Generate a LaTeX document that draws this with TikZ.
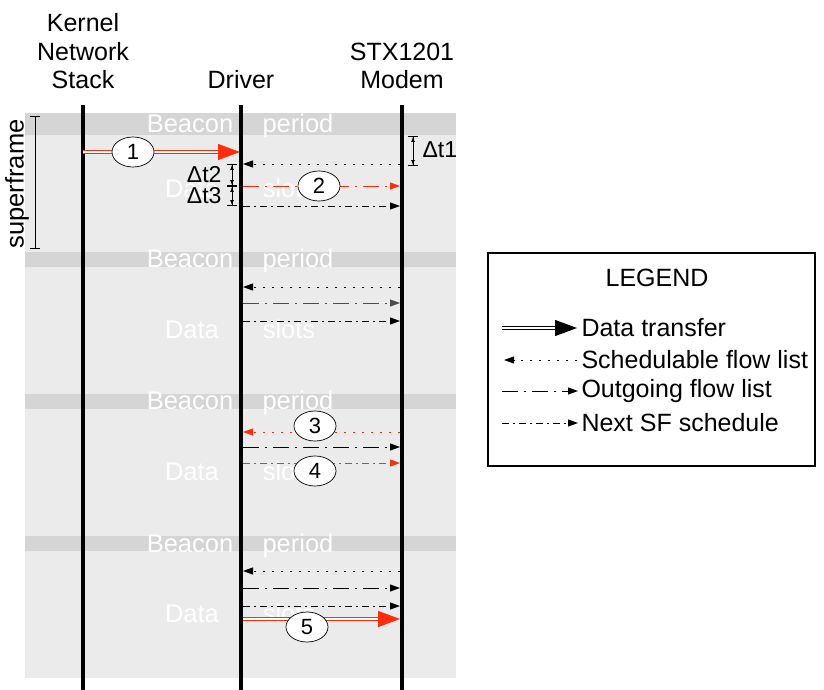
\documentclass[tikz,border=0pt]{standalone}
\usepackage{fontspec}
\setmainfont{Liberation Sans}
\usetikzlibrary{shapes.geometric, arrows.meta, positioning}
\definecolor{beacongray}{HTML}{D5D5D5}
\definecolor{slotgray}{HTML}{EBEBEB}
\definecolor{flowred}{HTML}{FF2D0A}
\tikzset{
  lifeline/.style={line width=4pt},
  headlabel/.style={
    align=center, anchor=base, font=\fontsize{25}{28.5}\selectfont
  },
  bandtext/.style={
    text=white, anchor=base, font=\fontsize{25.5}{29}\selectfont
  },
  steplabel/.style={
    ellipse, draw, fill=white, line width=0.7pt, inner sep=0pt,
    minimum width=42pt, minimum height=30pt, font=\fontsize{22}{26}\selectfont
  },
  dtlabel/.style={font=\fontsize{23}{27}\selectfont},
  smalltip/.style={-{Triangle[length=10pt,width=7pt]}},
  schedflow/.style={smalltip, dash pattern=on 2pt off 7pt, line width=1pt},
  outflow/.style={smalltip, dash pattern=on 16pt off 6pt on 2pt off 6pt, line width=1pt},
  nextflow/.style={smalltip, dash pattern=on 7pt off 4pt on 2pt off 4pt, line width=1pt},
  datatransfer/.style={
    -{Triangle[length=22pt,width=16pt]}, double=white,
    double distance=2pt, line width=1.2pt
  },
  spanbracket/.style={{Bar[width=10pt]}-{Bar[width=10pt]}, line width=0.8pt},
  timebracket/.style={
    {Bar[width=10pt]Latex[length=5pt]}-{Latex[length=5pt]Bar[width=10pt]},
    line width=0.8pt
  },
  legendtext/.style={anchor=west, font=\fontsize{25}{29}\selectfont},
}

\begin{document}
\begin{tikzpicture}[x=1pt, y=-1pt]
  \useasboundingbox (0,0) rectangle (824,690);

  % Background: data slots and beacon periods
  \fill[slotgray] (25,113) rectangle (456,678);
  \fill[beacongray] (25,113) rectangle (456,135);
  \fill[beacongray] (25,252) rectangle (456,267);
  \fill[beacongray] (25,394) rectangle (456,409);
  \fill[beacongray] (25,536) rectangle (456,551);

  \node[bandtext] (b1a) at (190,132) {Beacon};
  \node[bandtext] (b1b) at (298,132) {period};
  \node[bandtext] (s1a) at (192,197) {Data};
  \node[bandtext] (s1b) at (289,197) {slots};
  \node[bandtext] (b2a) at (190,267) {Beacon};
  \node[bandtext] (b2b) at (298,267) {period};
  \node[bandtext] (s2a) at (192,338) {Data};
  \node[bandtext] (s2b) at (289,338) {slots};
  \node[bandtext] (b3a) at (190,409) {Beacon};
  \node[bandtext] (b3b) at (298,409) {period};
  \node[bandtext] (s3a) at (192,480) {Data};
  \node[bandtext] (s3b) at (289,480) {slots};
  \node[bandtext] (b4a) at (190,552) {Beacon};
  \node[bandtext] (b4b) at (298,552) {period};
  \node[bandtext] (s4a) at (192,622) {Data};
  \node[bandtext] (s4b) at (289,622) {slots};

  % Headers
  \node[headlabel] (hk) at (83,89) {Kernel\\Network\\Stack};
  \node[headlabel] (hd) at (241,89) {Driver};
  \node[headlabel] (hm) at (402,89) {STX1201\\Modem};

  % Lifelines
  \coordinate (kt) at (83,105);  \coordinate (kb) at (83,690);
  \coordinate (dt) at (241,105); \coordinate (db) at (241,690);
  \coordinate (mt) at (402,105); \coordinate (mb) at (402,690);
  \draw[lifeline] (kt) -- (kb);
  \draw[lifeline] (dt) -- (db);
  \draw[lifeline] (mt) -- (mb);

  % Superframe span
  \coordinate (sft) at (35,116); \coordinate (sfb) at (35,249);
  \draw[spanbracket] (sft) -- (sfb);
  \node[rotate=90, font=\fontsize{25.5}{29}\selectfont] (sfl) at (17,184) {superframe};

  % Superframe 1
  \coordinate (k1) at (83,152);  \coordinate (d1) at (240,152);
  \coordinate (m2) at (400,164); \coordinate (d2) at (243,164);
  \coordinate (d3) at (243,186); \coordinate (m3) at (400,186);
  \coordinate (d4) at (243,206); \coordinate (m4) at (400,206);
  \draw[datatransfer, flowred] (k1) -- (d1);
  \draw[schedflow] (m2) -- (d2);
  \draw[outflow, flowred] (d3) -- (m3);
  \draw[nextflow] (d4) -- (m4);
  \node[steplabel] (n1) at (133,152) {1};
  \node[steplabel] (n2) at (319,186) {2};

  % Time offsets
  \coordinate (t1a) at (413,136); \coordinate (t1b) at (413,166);
  \draw[timebracket] (t1a) -- (t1b);
  \node[dtlabel, anchor=west] (t1l) at (419,150) {Δt1};
  \coordinate (t2a) at (232,164); \coordinate (t2b) at (232,186);
  \coordinate (t3b) at (232,206);
  \draw[timebracket] (t2a) -- (t2b);
  \draw[timebracket] (t2b) -- (t3b);
  \node[dtlabel, anchor=east] (t2l) at (225,175) {Δt2};
  \node[dtlabel, anchor=east] (t3l) at (225,196) {Δt3};

  % Superframe 2
  \coordinate (m5) at (400,287); \coordinate (d5) at (243,287);
  \coordinate (d6) at (243,303); \coordinate (m6) at (400,303);
  \coordinate (d7) at (243,321); \coordinate (m7) at (400,321);
  \draw[schedflow] (m5) -- (d5);
  \draw[outflow, black!70] (d6) -- (m6);
  \draw[nextflow] (d7) -- (m7);

  % Superframe 3
  \coordinate (m8) at (400,432);  \coordinate (d8) at (243,432);
  \coordinate (d9) at (243,447);  \coordinate (m9) at (400,447);
  \coordinate (d10) at (243,463); \coordinate (m10) at (400,463);
  \draw[schedflow, flowred] (m8) -- (d8);
  \draw[outflow] (d9) -- (m9);
  \draw[nextflow, flowred] (d10) -- (m10);
  \node[steplabel] (n3) at (315,426) {3};
  \node[steplabel] (n4) at (315,471) {4};

  % Superframe 4
  \coordinate (m11) at (400,571); \coordinate (d11) at (243,571);
  \coordinate (d12) at (243,588); \coordinate (m12) at (400,588);
  \coordinate (d13) at (243,606); \coordinate (m13) at (400,606);
  \coordinate (d14) at (243,619); \coordinate (m14) at (400,619);
  \draw[schedflow] (m11) -- (d11);
  \draw[outflow] (d12) -- (m12);
  \draw[nextflow] (d13) -- (m13);
  \draw[datatransfer, flowred] (d14) -- (m14);
  \node[steplabel] (n5) at (307,627) {5};

  % Legend
  \draw[line width=1.3pt] (488,253) rectangle (815,466);
  \node[font=\fontsize{25}{29}\selectfont] (lg) at (657,278) {LEGEND};
  \coordinate (la1) at (502,328); \coordinate (lb1) at (577,328);
  \coordinate (la2) at (577,360); \coordinate (lb2) at (504,360);
  \coordinate (la3) at (502,391); \coordinate (lb3) at (578,391);
  \coordinate (la4) at (502,423); \coordinate (lb4) at (578,423);
  \draw[datatransfer] (la1) -- (lb1);
  \draw[schedflow] (la2) -- (lb2);
  \draw[outflow] (la3) -- (lb3);
  \draw[nextflow] (la4) -- (lb4);
  \node[legendtext] (lt1) at (578,328) {Data transfer};
  \node[legendtext] (lt2) at (578,360) {Schedulable flow list};
  \node[legendtext] (lt3) at (578,391) {Outgoing flow list};
  \node[legendtext] (lt4) at (578,423) {Next SF schedule};
\end{tikzpicture}
\end{document}
